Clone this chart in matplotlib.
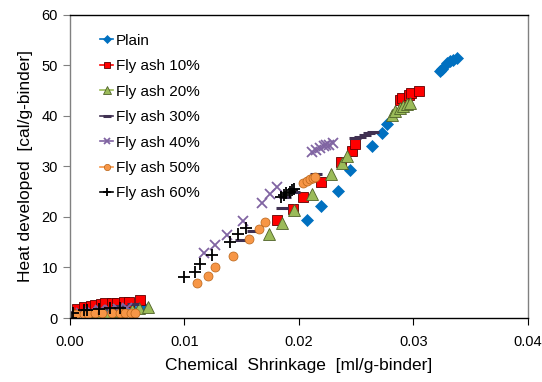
import matplotlib
matplotlib.use("Agg")
import numpy as np
from matplotlib import pyplot as plt
from matplotlib.lines import Line2D

plt.rcParams['font.family'] = ['Liberation Sans', 'DejaVu Sans']

# data (chemical shrinkage [ml/g], heat [cal/g])
plain_x = [0.0003, 0.0012, 0.0022, 0.0033, 0.0043, 0.0053, 0.0063,
           0.0207, 0.0219, 0.0234, 0.0245, 0.0264, 0.0273, 0.0277,
           0.0323, 0.0325, 0.0329, 0.0332, 0.0335, 0.0338]
plain_y = [0.4, 0.8, 1.1, 1.4, 1.7, 2.0, 2.4,
           19.5, 22.2, 25.2, 29.3, 34.1, 36.7, 38.4,
           48.8, 49.2, 50.4, 50.8, 51.1, 51.4]

fa10_x = [0.0006, 0.0012, 0.0018, 0.0022, 0.0027, 0.0031, 0.0037, 0.0041,
          0.0047, 0.0052, 0.0061,
          0.0181, 0.0195, 0.0204, 0.0219, 0.0237, 0.0246, 0.0249,
          0.0288, 0.0290, 0.0296, 0.0298, 0.0305]
fa10_y = [1.8, 2.2, 2.4, 2.6, 2.8, 2.9, 3.0, 3.0,
          3.1, 3.2, 3.5,
          19.4, 21.5, 24.0, 27.0, 30.9, 33.0, 34.5,
          43.2, 43.5, 44.2, 44.5, 45.0]

fa20_x = [0.0004, 0.0014, 0.0024, 0.0034, 0.0044, 0.0054, 0.0060, 0.0068,
          0.0174, 0.0185, 0.0196, 0.0211, 0.0228, 0.0238, 0.0242,
          0.0281, 0.0284, 0.0288, 0.0291, 0.0294, 0.0297]
fa20_y = [0.6, 0.8, 1.0, 1.2, 1.4, 1.6, 1.9, 2.2,
          16.6, 18.9, 21.4, 24.6, 28.5, 30.6, 32.0,
          40.2, 40.9, 41.5, 42.0, 42.4, 42.6]

fa30_x = [0.0005, 0.0015, 0.0025, 0.0035, 0.0045, 0.0055,
          0.0149, 0.0160, 0.0185, 0.0188, 0.0196, 0.0215,
          0.0249, 0.0253, 0.0258, 0.0261, 0.0265]
fa30_y = [1.2, 1.5, 1.8, 2.0, 2.3, 2.7,
          15.4, 17.2, 21.8, 24.0, 25.0, 28.5,
          35.6, 35.9, 36.2, 36.7, 36.9]

fa40_x = [0.0003, 0.0010, 0.0018, 0.0026, 0.0035, 0.0042, 0.0050,
          0.0117, 0.0127, 0.0137, 0.0151, 0.0168, 0.0175, 0.0181,
          0.0211, 0.0215, 0.0218, 0.0222, 0.0224, 0.0226, 0.0230]
fa40_y = [0.6, 1.0, 1.3, 1.5, 1.6, 1.8, 2.0,
          12.8, 14.5, 16.4, 19.2, 22.7, 24.6, 25.9,
          32.8, 33.3, 33.6, 34.0, 34.2, 34.3, 34.7]

fa50_x = [0.0001, 0.0005, 0.0012, 0.0016, 0.0022, 0.0028, 0.0037, 0.0044,
          0.0048, 0.0053, 0.0057,
          0.0111, 0.0121, 0.0127, 0.0142, 0.0156, 0.0165, 0.0170,
          0.0204, 0.0207, 0.0210, 0.0212, 0.0214]
fa50_y = [0.1, 0.7, 0.8, 0.8, 0.9, 0.9, 0.9, 0.9,
          0.9, 1.0, 1.0,
          7.0, 8.3, 10.0, 12.3, 15.6, 17.6, 19.1,
          26.7, 27.2, 27.5, 27.8, 28.0]

fa60_x = [0.0001, 0.0003, 0.0012, 0.0015, 0.0025, 0.0035, 0.0044,
          0.0100, 0.0109, 0.0114, 0.0124, 0.0140, 0.0147, 0.0154,
          0.0184, 0.0187, 0.0189, 0.0192, 0.0194, 0.0196]
fa60_y = [0.1, 0.9, 1.5, 1.6, 1.7, 1.9, 2.0,
          8.2, 9.2, 10.6, 12.5, 15.1, 16.6, 17.8,
          23.9, 24.4, 24.7, 25.0, 25.3, 25.5]

series = [
    ("Plain", plain_x, plain_y, dict(marker='D', color='#0070C0', mec='#0070C0', ms=6.5, mew=0.5)),
    ("Fly ash 10%", fa10_x, fa10_y, dict(marker='s', color='#FF0000', mec='#600000', ms=7, mew=0.6)),
    ("Fly ash 20%", fa20_x, fa20_y, dict(marker='^', color='#9BBB59', mec='#4F6228', ms=8, mew=0.6)),
    ("Fly ash 30%", fa30_x, fa30_y, dict(marker='_', color='#403152', mec='#403152', ms=8, mew=2.2)),
    ("Fly ash 40%", fa40_x, fa40_y, dict(marker='x', color='#8064A2', mec='#8064A2', ms=7, mew=1.3)),
    ("Fly ash 50%", fa50_x, fa50_y, dict(marker='o', color='#F79646', mec='#B86418', ms=6.5, mew=0.5)),
    ("Fly ash 60%", fa60_x, fa60_y, dict(marker='+', color='#000000', mec='#000000', ms=8, mew=1.3)),
]

fig = plt.figure(figsize=(5.42, 3.82), dpi=100)
ax = fig.add_axes([0.129, 0.1675, 0.845, 0.7935])

handles = []
for name, xs, ys, st in series:
    ax.plot(xs, ys, linestyle='none', marker=st['marker'], markersize=st['ms'],
            markerfacecolor=st['color'], markeredgecolor=st['mec'],
            markeredgewidth=st['mew'], color=st['color'])
    handles.append(Line2D([0], [0], color=st['color'], lw=1.2, marker=st['marker'],
                          markersize=st['ms'] * 0.7, markerfacecolor=st['color'],
                          markeredgecolor=st['mec'], markeredgewidth=st['mew'],
                          label=name))

ax.set_xlim(0, 0.04)
ax.set_ylim(0, 60)
ax.set_xticks([0.0, 0.01, 0.02, 0.03, 0.04])
ax.set_xticklabels(['0.00', '0.01', '0.02', '0.03', '0.04'])
ax.set_yticks([0, 10, 20, 30, 40, 50, 60])
ax.tick_params(direction='out', length=5, width=0.8, labelsize=10.5, colors='#000000')
ax.tick_params(axis='y', color='#808080')
ax.tick_params(axis='x', pad=7)

ax.spines['left'].set_color('#808080')
ax.spines['right'].set_color('#808080')
ax.spines['top'].set_color('#000000')
ax.spines['bottom'].set_color('#000000')
for sp in ax.spines.values():
    sp.set_linewidth(1.0)

ax.set_xlabel('Chemical  Shrinkage  [ml/g-binder]', fontsize=12.5, labelpad=7)
ax.set_ylabel('Heat developed  [cal/g-binder]', fontsize=12.5, labelpad=6)

leg = ax.legend(handles=handles, loc='upper left', bbox_to_anchor=(0.066, 0.938),
                frameon=False, fontsize=11, handlelength=0.85, handletextpad=0.2,
                labelspacing=0.75, borderaxespad=0.0, borderpad=0.0)

fig.savefig('out.png', dpi=100)
